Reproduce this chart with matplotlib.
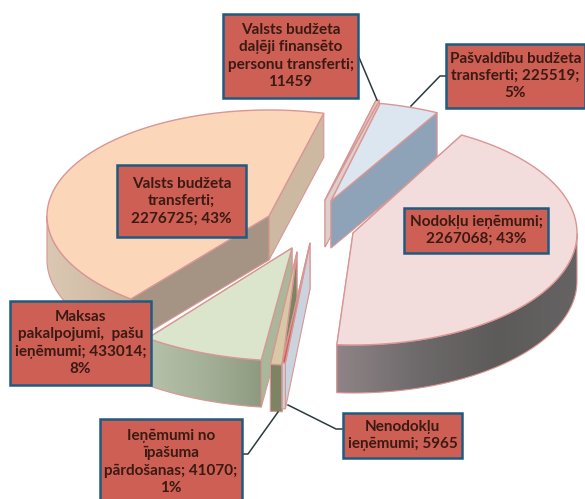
import numpy as np
import matplotlib
matplotlib.use("Agg")
import matplotlib.pyplot as plt
from matplotlib.colors import LinearSegmentedColormap
from matplotlib.patches import Polygon, Rectangle

categories = ["Nodokļu ieņēmumi", "Nenodokļu ieņēmumi", "Ieņēmumi no īpašuma pārdošanas",
              "Maksas pakalpojumi, pašu ieņēmumi", "Valsts budžeta transferti",
              "Valsts budžeta daļēji finansēto personu transferti", "Pašvaldību budžeta transferti"]
values = [2267068, 5965, 41070, 433014, 2276725, 11459, 225519]
labels = ["Nodokļu ieņēmumi;\n2267068; 43%", "Nenodokļu\nieņēmumi; 5965",
          "Ieņēmumi no\nīpašuma\npārdošanas; 41070;\n1%",
          "Maksas\npakalpojumi,  pašu\nieņēmumi; 433014;\n8%",
          "Valsts budžeta\ntransferti;\n2276725; 43%",
          "Valsts budžeta\ndaļēji finansēto\npersonu transferti;\n11459",
          "Pašvaldību budžeta\ntransferti; 225519;\n5%"]

START = 28.0
EDGE = "#D99694"
# apex x, apex y, rx, ry for each slice
geom = [(353, 233, 224, 112), (310, 243, 450, 120), (297, 252, 240, 113), (292, 248, 240, 113),
        (269, 216, 222, 106), (325, 200, 250, 102), (331, 201, 226, 100)]
turns = [1, 0, 0, 1, 2.5, 0, 0]
depths = [48, 46, 47, 47, 44, 47, 47]
tops = ["#F2DDDC", "#D0605A", "#D8C9A6", "#DAE5CC", "#FCD6B8", "#E3C4C0", "#DCE6F1"]
start_faces = ["#8A8083", "#CBD3DE", "#7D8464", "#A9B89B", "#A59484", "#DDCFCB", "#8FA3B8"]
end_faces = ["#8A8083", "#CBD3DE", "#7D8464", "#A9B89B", "#CDB9A2", "#DDCFCB", "#8FA3B8"]
wall_stops = [["#8F8487", "#6E6A6B", "#5D5A5A", "#666364"], ["#CBD3DE", "#CBD3DE"], ["#7D8464", "#7D8464"],
              ["#B5C2A9", "#A4B198", "#8E9A80"], ["#DBC8B2", "#D4C0AA", "#C8B49E"],
              ["#DDCFCB", "#DDCFCB"], ["#8FA3B8", "#8FA3B8"]]
boxes = [(404, 208, 548, 253), (343, 413, 462, 458), (100, 419, 242, 505), (10, 301, 151, 385),
         (117, 165, 246, 237), (223, 14, 358, 98), (446, 44, 585, 108)]
leaders = [None, [(342, 429), (336, 429), (288, 405)], [(242, 454), (248, 454), (278, 412)], None, None,
           [(358, 55), (377, 100)], [(446, 76), (440, 76), (411, 106)]]
order = [4, 5, 6, 0, 3, 2, 1]

fig = plt.figure(figsize=(5.85, 4.99), dpi=100)
ax = fig.add_axes([0, 0, 1, 1])
ax.axis("off")

sweeps = np.array(values) / sum(values) * 360
starts = START + np.concatenate([[0], np.cumsum(sweeps)[:-1]])


def point(g, deg):
    a = np.radians(deg)
    return g[0] + g[2] * np.sin(a), g[1] - g[3] * np.cos(a)


zo = 2.0
for i in order:
    g, a0, a1, d = geom[i], starts[i] + turns[i], starts[i] + sweeps[i] + turns[i], depths[i]
    apex = (g[0], g[1])
    # radial faces, the one reaching further back first
    face_list = sorted([(point(g, a0), start_faces[i]), (point(g, a1), end_faces[i])], key=lambda f: f[0][1])
    for p, col in face_list:
        zo += 0.01
        ax.add_patch(Polygon([apex, p, (p[0], p[1] + d), (apex[0], apex[1] + d)],
                             fc=col, ec=EDGE, lw=0.8, zorder=zo))
    # outer wall, shaded along the arc
    lo, hi = max(a0, 90), min(a1, 270)
    if hi > lo:
        ang = np.linspace(lo, hi, 80)
        arc = np.array([point(g, t) for t in ang])
        low = arc + [0, d]
        zo += 0.01
        wall = Polygon(np.vstack([arc, low[::-1]]), fc="none", ec=EDGE, lw=0.8, zorder=zo + 0.001)
        ax.add_patch(wall)
        cmap = LinearSegmentedColormap.from_list("w", wall_stops[i])
        # stops run from the low-x end of the arc to the high-x end
        grad = np.linspace(0, 1, 256)[None, :]
        xmin, xmax = arc[:, 0].min(), arc[:, 0].max()
        ymin, ymax = arc[:, 1].min(), low[:, 1].max()
        im = ax.imshow(grad, cmap=cmap, extent=(xmin, max(xmax, xmin + 1), ymax, ymin), aspect="auto",
                       interpolation="bilinear", zorder=zo)
        clip = Polygon(np.vstack([arc, low[::-1]]), transform=ax.transData)
        im.set_clip_path(clip)
    # top surface
    ang = np.linspace(a0, a1, max(int(sweeps[i]) * 2, 3))
    zo += 0.01
    ax.add_patch(Polygon([apex] + [point(g, t) for t in ang], fc=tops[i], ec=EDGE, lw=1.0,
                         joinstyle="round", zorder=zo))

ax.set_xlim(0, 585)
ax.set_ylim(499, 0)

for i, box in enumerate(boxes):
    x0, y0, x1, y1 = box
    ax.add_patch(Rectangle((x0, y0), x1 - x0, y1 - y0, fc="#CD5F55", ec="#1F5A80", lw=1.8, zorder=6))
    ax.text((x0 + x1) / 2, (y0 + y1) / 2, labels[i], ha="center", va="center",
            family="Lato", fontweight="bold", fontsize=11, color="#3A1A12", linespacing=1.3, zorder=7)
    if leaders[i]:
        xs, ys = zip(*leaders[i])
        ax.plot(xs, ys, color="#2B3A3E", lw=1.1, zorder=5)

fig.savefig("out.png", dpi=100, facecolor="white")
